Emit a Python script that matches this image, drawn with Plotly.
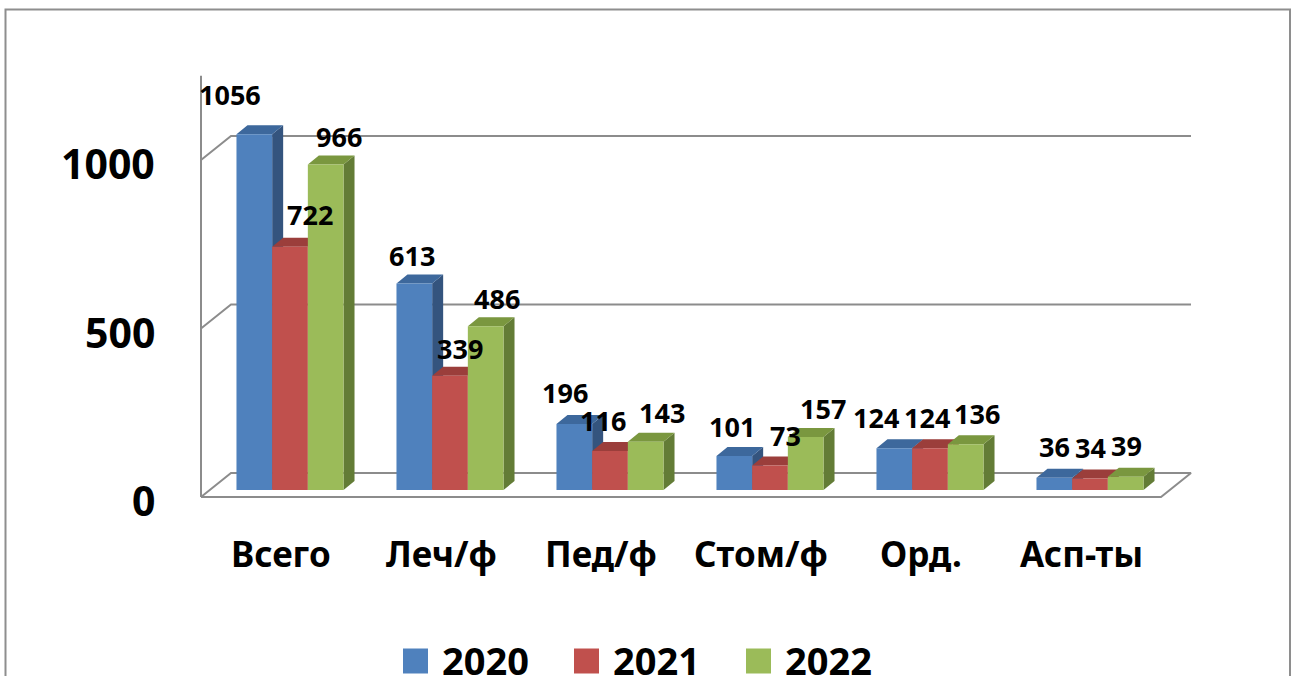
import plotly.graph_objects as go

# ---------------- data ----------------
categories = ["Всего", "Леч/ф", "Пед/ф", "Стом/ф", "Орд.", "Асп-ты"]
years = ["2020", "2021", "2022"]
v2020 = [1056, 613, 196, 101, 124, 36]
v2021 = [722, 339, 116, 73, 124, 34]
v2022 = [966, 486, 143, 157, 136, 39]
y_ticks = [0, 500, 1000]
y_axis_max = 1250

# ---------------- style ----------------
series = [v2020, v2021, v2022]
front_colors = ["#4F81BD", "#C0504D", "#9BBB59"]
top_colors = ["#3D689C", "#9B3E3B", "#7A973F"]
side_colors = ["#34547E", "#7D312F", "#637C36"]
grid_color = "#8C8C8C"
FONT = "Noto Sans"

# label nudges (px) for the value labels, per series/category
label_dx = [[-24, -2, -9, -2, -18, 0],
            [20, 10, -7, 15, -3, 0],
            [13, 11, 16, 17, 11, 1]]
label_dy = [[40, 28, 31, 29, 31, 31],
            [32, 27, 30, 30, 31, 31],
            [28, 28, 29, 29, 31, 31]]

W, H = 1298, 676
PXX = 160.0      # px per category unit
PXY = 0.337      # px per value unit
X0 = 290.0       # pixel x of first category centre
Y0 = 490.0       # pixel y of value 0 (bar front plane)


def ux(px):
    return px / PXX


def uy(px):
    return -px / PXY


xrange = [-X0 / PXX, (W - X0) / PXX]
yrange = [-(H - Y0) / PXY, Y0 / PXY]

BAR_W = 0.223
DEP = (ux(11), uy(-9))     # bar depth
FR = (ux(-9), uy(7))       # floor front plane offset
BK = (ux(21), uy(-17))     # back wall offset
n = len(categories)
XL, XR = -0.5, n - 0.5

fig = go.Figure()
line_style = dict(color=grid_color, width=2)

# floor outline
fig.add_trace(go.Scatter(
    x=[XL + FR[0], XR + FR[0], XR + BK[0], XL + BK[0], XL + FR[0]],
    y=[FR[1], FR[1], BK[1], BK[1], FR[1]],
    mode="lines", line=line_style, hoverinfo="skip", showlegend=False))

# gridlines (left wall diagonal + back wall)
gx, gy = [], []
for t in y_ticks[1:]:
    gx += [XL + FR[0], XL + BK[0], XR + BK[0], None]
    gy += [t + FR[1], t + BK[1], t + BK[1], None]
# vertical axis
gx += [XL + FR[0], XL + FR[0]]
gy += [FR[1], y_axis_max + FR[1]]
fig.add_trace(go.Scatter(x=gx, y=gy, mode="lines", line=line_style,
                         hoverinfo="skip", showlegend=False))

# bars (side, top, front per series)
for s, vals in enumerate(series):
    sx, sy, tx, ty, fx, fy = [], [], [], [], [], []
    for i, v in enumerate(vals):
        l = i + (s - 1.5) * BAR_W
        r = l + BAR_W
        fx += [l, r, r, l, l, None]
        fy += [0, 0, v, v, 0, None]
        tx += [l, r, r + DEP[0], l + DEP[0], l, None]
        ty += [v, v, v + DEP[1], v + DEP[1], v, None]
        sx += [r, r + DEP[0], r + DEP[0], r, r, None]
        sy += [0, DEP[1], v + DEP[1], v, 0, None]
    for xs, ys, col in [(sx, sy, side_colors[s]), (tx, ty, top_colors[s]),
                        (fx, fy, front_colors[s])]:
        fig.add_trace(go.Scatter(x=xs, y=ys, mode="lines", fill="toself",
                                 fillcolor=col, line=dict(width=0, color=col),
                                 hoverinfo="skip", showlegend=False))

# value labels
for s, vals in enumerate(series):
    for i, v in enumerate(vals):
        c = i + (s - 1.0) * BAR_W
        fig.add_annotation(x=c, y=v, text=str(v), showarrow=False,
                           xshift=label_dx[s][i], yshift=label_dy[s][i],
                           xanchor="center", yanchor="middle",
                           font=dict(family=FONT, size=27, color="black",
                                     weight="bold"))

# y tick labels
for t in y_ticks:
    fig.add_annotation(x=XL + FR[0], y=t + FR[1], text=str(t), showarrow=False,
                       xanchor="right", yanchor="middle", xshift=-44, yshift=-3,
                       font=dict(family=FONT, size=41, color="black", weight="bold"))

# category labels
for i, c in enumerate(categories):
    fig.add_annotation(x=i + FR[0], y=FR[1], text=c, showarrow=False,
                       xanchor="center", yanchor="middle", yshift=-56,
                       font=dict(family=FONT, size=35, color="black", weight="bold"))

# manual legend
leg_px_x = [415.5, 586.5, 758.5]
leg_px_y = 661.0
for k, yr in enumerate(years):
    lx = (leg_px_x[k] - X0) / PXX
    ly = (Y0 - leg_px_y) / PXY
    fig.add_trace(go.Scatter(x=[lx], y=[ly], mode="markers",
                             marker=dict(symbol="square", size=25,
                                         color=front_colors[k], line=dict(width=0)),
                             hoverinfo="skip", showlegend=False, cliponaxis=False))
    fig.add_annotation(x=lx, y=ly, text=yr, showarrow=False, xanchor="left",
                       yanchor="middle", xshift=24, yshift=1,
                       font=dict(family=FONT, size=38, color="black", weight="bold"))

# outer border
fig.add_shape(type="rect", xref="paper", yref="paper",
              x0=5.5 / W, x1=1290.0 / W, y0=-0.1, y1=1 - 9.5 / H,
              line=dict(color="#8E8E8E", width=2), fillcolor="rgba(0,0,0,0)")

fig.update_layout(
    width=W, height=H, margin=dict(l=0, r=0, t=0, b=0),
    paper_bgcolor="white", plot_bgcolor="white",
    xaxis=dict(range=xrange, visible=False, fixedrange=True),
    yaxis=dict(range=yrange, visible=False, fixedrange=True),
    showlegend=False,
)

fig.write_html("out.html", config={"displayModeBar": False},
               post_script="document.body.style.margin='0';")
